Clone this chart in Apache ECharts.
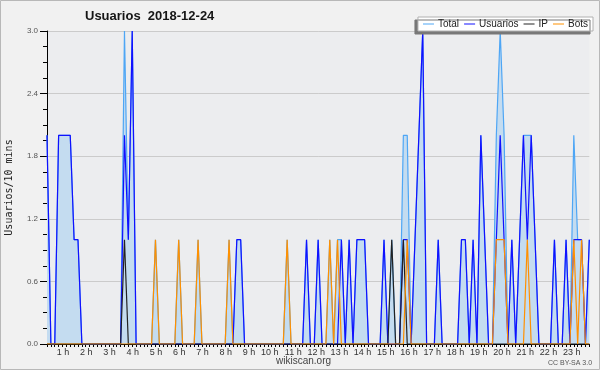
<!DOCTYPE html>
<html>
<head>
<meta charset="utf-8">
<script src="https://cdn.jsdelivr.net/npm/echarts@6/dist/echarts.min.js"></script>
<style>
  html, body { margin: 0; padding: 0; background: #f1f1f1; }
  #main { width: 600px; height: 370px; }
</style>
</head>
<body>
<div id="main"></div>
<script>
// 10 minute slots, 00:00 .. 23:20
const hourLabels = ['1 h', '2 h', '3 h', '4 h', '5 h', '6 h', '7 h', '8 h', '9 h', '10 h', '11 h', '12 h',
	'13 h', '14 h', '15 h', '16 h', '17 h', '18 h', '19 h', '20 h', '21 h', '22 h', '23 h'];
const yTicks = [0, 0.6, 1.2, 1.8, 2.4, 3.0];

const total = [
	2, 0, 0, 2, 2, 2, 2, 1, 1, 0,
	0, 0, 0, 0, 0, 0, 0, 0, 0, 0,
	3, 1, 3, 0, 0, 0, 0, 0, 1, 0,
	0, 0, 0, 0, 1, 0, 0, 0, 0, 1,
	0, 0, 0, 0, 0, 0, 0, 1, 0, 1,
	1, 0, 0, 0, 0, 0, 0, 0, 0, 0,
	0, 0, 1, 0, 0, 0, 0, 1, 0, 0,
	1, 0, 0, 1, 0, 1, 1, 0, 1, 0,
	1, 1, 1, 0, 0, 0, 0, 1, 0, 1,
	0, 0, 2, 2, 0, 1, 2, 3, 0, 0,
	0, 1, 0, 0, 0, 0, 0, 1, 1, 0,
	1, 0, 2, 1, 0, 0, 2, 3, 2, 0,
	1, 0, 1, 2, 2, 2, 1, 0, 0, 0,
	0, 1, 0, 0, 1, 0, 2, 1, 1, 0,
	1
];
const usuarios = [
	2, 0, 0, 2, 2, 2, 2, 1, 1, 0,
	0, 0, 0, 0, 0, 0, 0, 0, 0, 0,
	2, 1, 3, 0, 0, 0, 0, 0, 0, 0,
	0, 0, 0, 0, 0, 0, 0, 0, 0, 0,
	0, 0, 0, 0, 0, 0, 0, 0, 0, 1,
	1, 0, 0, 0, 0, 0, 0, 0, 0, 0,
	0, 0, 0, 0, 0, 0, 0, 1, 0, 0,
	1, 0, 0, 0, 0, 0, 1, 0, 1, 0,
	1, 1, 1, 0, 0, 0, 0, 1, 0, 0,
	0, 0, 1, 1, 0, 1, 2, 3, 0, 0,
	0, 1, 0, 0, 0, 0, 0, 1, 1, 0,
	1, 0, 2, 1, 0, 0, 1, 2, 1, 0,
	1, 0, 1, 2, 1, 2, 1, 0, 0, 0,
	0, 1, 0, 0, 1, 0, 1, 1, 1, 0,
	1
];
const ip = [
	0, 0, 0, 0, 0, 0, 0, 0, 0, 0,
	0, 0, 0, 0, 0, 0, 0, 0, 0, 0,
	1, 0, 0, 0, 0, 0, 0, 0, 0, 0,
	0, 0, 0, 0, 0, 0, 0, 0, 0, 0,
	0, 0, 0, 0, 0, 0, 0, 0, 0, 0,
	0, 0, 0, 0, 0, 0, 0, 0, 0, 0,
	0, 0, 0, 0, 0, 0, 0, 0, 0, 0,
	0, 0, 0, 0, 0, 0, 0, 0, 0, 0,
	0, 0, 0, 0, 0, 0, 0, 0, 0, 1,
	0, 0, 1, 0, 0, 0, 0, 0, 0, 0,
	0, 0, 0, 0, 0, 0, 0, 0, 0, 0,
	0, 0, 0, 0, 0, 0, 0, 0, 0, 0,
	0, 0, 0, 0, 0, 0, 0, 0, 0, 0,
	0, 0, 0, 0, 0, 0, 0, 0, 0, 0,
	0
];
const bots = [
	0, 0, 0, 0, 0, 0, 0, 0, 0, 0,
	0, 0, 0, 0, 0, 0, 0, 0, 0, 0,
	0, 0, 0, 0, 0, 0, 0, 0, 1, 0,
	0, 0, 0, 0, 1, 0, 0, 0, 0, 1,
	0, 0, 0, 0, 0, 0, 0, 1, 0, 0,
	0, 0, 0, 0, 0, 0, 0, 0, 0, 0,
	0, 0, 1, 0, 0, 0, 0, 0, 0, 0,
	0, 0, 0, 1, 0, 1, 0, 0, 0, 0,
	0, 0, 0, 0, 0, 0, 0, 0, 0, 0,
	0, 0, 0, 1, 0, 0, 0, 0, 0, 0,
	0, 0, 0, 0, 0, 0, 0, 0, 0, 0,
	0, 0, 0, 0, 0, 0, 1, 1, 1, 0,
	0, 0, 0, 0, 1, 0, 0, 0, 0, 0,
	0, 0, 0, 0, 0, 0, 1, 0, 1, 0,
	0
];

const slots = total.map((v, i) => {
	const m = i * 10;
	return String(Math.floor(m / 60)).padStart(2, '0') + ':' + String(m % 60).padStart(2, '0');
});

const chart = echarts.init(document.getElementById('main'), null, { renderer: 'canvas' });

const lineSeries = (name, data, color, width, z) => ({
	name,
	type: 'line',
	data,
	symbol: 'none',
	z,
	lineStyle: { color, width },
	itemStyle: { color }
});

const totalSeries = lineSeries('Total', total, '#4ea6f5', 1.2, 2);
totalSeries.areaStyle = { color: '#c4dcf0', opacity: 1 };

const option = {
	animation: false,
	backgroundColor: '#f1f1f1',
	textStyle: { fontFamily: 'Liberation Sans' },
	title: {
		text: 'Usuarios  2018-12-24',
		left: 85,
		top: 10,
		padding: 0,
		textStyle: { fontFamily: 'Liberation Sans', fontWeight: 'bold', fontSize: 13, color: '#151515' }
	},
	legend: {
		right: 7,
		top: 17,
		padding: [2, 5, 2, 5],
		itemGap: 5,
		itemWidth: 11,
		itemHeight: 1,
		icon: 'rect',
		backgroundColor: '#ffffff',
		borderColor: '#b0b0b0',
		borderWidth: 1,
		shadowColor: '#787878',
		shadowBlur: 0,
		shadowOffsetX: -3,
		shadowOffsetY: 3,
		textStyle: { fontSize: 10, color: '#222', padding: [0, 0, 0, -1] },
		data: ['Total', 'Usuarios', 'IP', 'Bots']
	},
	grid: {
		left: 47, right: 10.7, top: 31, bottom: 26,
		outerBoundsMode: 'none',
		containLabel: false,
		show: true, backgroundColor: '#ecedef', borderWidth: 0
	},
	xAxis: {
		type: 'category',
		data: slots,
		boundaryGap: false,
		axisLine: { lineStyle: { color: '#000', width: 1 } },
		axisTick: { show: true, interval: 0, length: 3, lineStyle: { color: '#000' } },
		axisLabel: {
			interval: (idx) => idx > 0 && idx % 6 === 0,
			formatter: (val, idx) => hourLabels[idx / 6 - 1] || '',
			align: 'right',
			padding: [0, 1, 0, 0],
			margin: 4,
			fontSize: 9,
			color: '#333'
		},
		splitLine: { show: false }
	},
	yAxis: {
		type: 'value',
		min: yTicks[0],
		max: yTicks[yTicks.length - 1],
		interval: 0.6,
		name: 'Usuarios/10 mins',
		nameLocation: 'middle',
		nameGap: 33,
		nameTextStyle: { fontFamily: 'DejaVu Sans Mono', fontSize: 10, color: '#222' },
		axisLine: { show: true, lineStyle: { color: '#000', width: 1 } },
		axisTick: { show: true, length: 7, lineStyle: { color: '#000' } },
		minorTick: { show: true, splitNumber: 4, length: 4, lineStyle: { color: '#000' } },
		axisLabel: { formatter: (v) => v.toFixed(1), fontSize: 8, color: '#555', margin: 9 },
		splitLine: { show: true, lineStyle: { color: '#cbcbcb', width: 1 } }
	},
	graphic: [
		{
			type: 'rect',
			shape: { x: 0.5, y: 0.5, width: 599, height: 369 },
			style: { fill: 'none', stroke: '#b8b8b8', lineWidth: 1 },
			silent: true
		},
		{
			type: 'text',
			left: 276,
			top: 356,
			style: { text: 'wikiscan.org', fontSize: 10, fill: '#444', fontFamily: 'Liberation Sans' }
		},
		{
			type: 'text',
			left: 548,
			top: 360,
			style: { text: 'CC BY-SA 3.0', fontSize: 7, fill: '#555', fontFamily: 'Liberation Sans' }
		}
	],
	series: [
		totalSeries,
		lineSeries('Usuarios', usuarios, '#1010ff', 1.2, 3),
		lineSeries('IP', ip, '#222222', 1.2, 4),
		lineSeries('Bots', bots, '#ff9000', 1.2, 5)
	]
};

chart.setOption(option);
</script>
</body>
</html>
